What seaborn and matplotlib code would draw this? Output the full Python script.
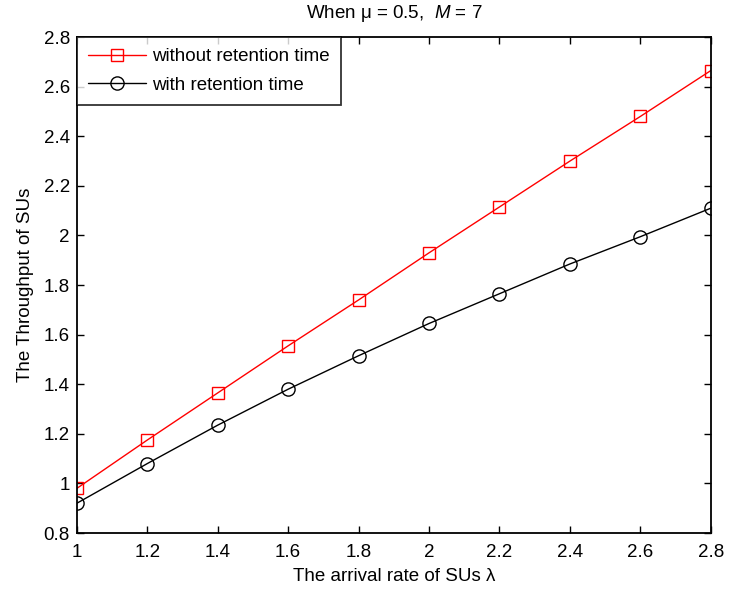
import matplotlib
matplotlib.use("Agg")
import matplotlib.pyplot as plt
import pandas as pd
import seaborn as sns

arrival_rate = [1.0, 1.2, 1.4, 1.6, 1.8, 2.0, 2.2, 2.4, 2.6, 2.8]
without_retention = [0.98, 1.175, 1.365, 1.555, 1.74, 1.93, 2.115, 2.30, 2.48, 2.665]
with_retention = [0.92, 1.08, 1.235, 1.38, 1.515, 1.645, 1.765, 1.885, 1.995, 2.11]
x_ticks = [1, 1.2, 1.4, 1.6, 1.8, 2, 2.2, 2.4, 2.6, 2.8]
y_ticks = [0.8, 1, 1.2, 1.4, 1.6, 1.8, 2, 2.2, 2.4, 2.6, 2.8]

sns.set_style("ticks")
plt.rcParams["font.family"] = ["Liberation Sans", "DejaVu Sans"]
plt.rcParams["mathtext.fontset"] = "custom"
plt.rcParams["mathtext.it"] = "Liberation Sans:italic"
plt.rcParams["mathtext.rm"] = "Liberation Sans"
plt.rcParams["text.color"] = "black"
plt.rcParams["axes.labelcolor"] = "black"

df = pd.DataFrame({"rate": arrival_rate,
                   "without": without_retention,
                   "with": with_retention})

fig = plt.figure(figsize=(7.32, 5.9), dpi=100)
ax = fig.add_axes([0.105, 0.0966, 0.866, 0.8405])

sns.lineplot(data=df, x="rate", y="without", ax=ax, color="red", marker="s",
             markersize=9, markerfacecolor="none", markeredgecolor="red",
             markeredgewidth=1.0, linewidth=1.0, label="without retention time")
sns.lineplot(data=df, x="rate", y="with", ax=ax, color="black", marker="o",
             markersize=9.5, markerfacecolor="none", markeredgecolor="black",
             markeredgewidth=1.0, linewidth=1.0, label="with retention time")

ax.set_xlim(1, 2.8)
ax.set_ylim(0.8, 2.8)
ax.set_xticks(x_ticks)
ax.set_xticklabels([f"{t:g}" for t in x_ticks])
ax.set_yticks(y_ticks)
ax.set_yticklabels([f"{t:g}" for t in y_ticks])
ax.tick_params(direction="in", top=True, right=True, length=5, width=1,
               labelsize=13.5, colors="black")
ax.tick_params(axis="x", pad=8)
ax.tick_params(axis="y", pad=5)
for s in ax.spines.values():
    s.set_visible(True)
    s.set_linewidth(1.3)
    s.set_color("black")

ax.set_xlabel("The arrival rate of SUs λ", fontsize=13.5, labelpad=5)
ax.set_ylabel("The Throughput of SUs", fontsize=13.5, labelpad=7)
ax.set_title(r"When μ = 0.5,  $M$ = 7", fontsize=13.5, pad=14)

leg = ax.legend(loc="upper left", fontsize=13.5, frameon=True, fancybox=False,
                borderaxespad=0.0, handlelength=3.1, handletextpad=0.3,
                borderpad=0.6, labelspacing=0.6)
leg.get_frame().set_edgecolor("black")
leg.get_frame().set_linewidth(1.3)

fig.savefig("out.png", dpi=100)
